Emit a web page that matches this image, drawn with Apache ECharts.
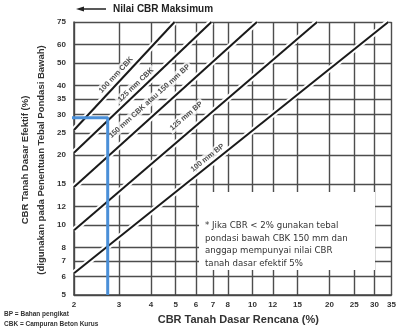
<!DOCTYPE html>
<html>
<head>
<meta charset="utf-8">
<script src="https://cdn.jsdelivr.net/npm/echarts@6/dist/echarts.min.js"></script>
<style>
  html, body { margin: 0; padding: 0; background: #fff; }
  #chart { width: 399px; height: 332px; }
</style>
</head>
<body>
<div id="chart"></div>
<script>
// tick values on both log axes
const xTicks = [2, 3, 4, 5, 6, 7, 8, 10, 12, 15, 20, 25, 30, 35];
const yTicks = [5, 6, 7, 8, 10, 12, 15, 20, 25, 30, 35, 40, 50, 60, 75];

// design lines [CBR rencana, CBR efektif]
const lineNames = ['100 mm CBK', '125 mm CBK', '150 mm CBK atau 150 mm BP', '125 mm BP', '100 mm BP'];
const cbk100 = [[2, 25.7], [4.95, 75]];
const cbk125 = [[2, 20.5], [6.9, 75]];
const cbk150 = [[2, 14.6], [10.4, 75]];
const bp125 = [[2, 9.5], [17.9, 75]];
const bp100 = [[2, 6.2], [34, 75]];
const labelSpots = [[2.92, 44.4], [3.49, 40.2], [3.95, 34.2], [5.5, 29.5], [6.66, 19.5]];

// blue reading example
const readLine = [[2.71, 5], [2.71, 29], [1.88, 29]];

const lg = v => Math.log10(v);
const toLog = pts => pts.map(p => [lg(p[0]), lg(p[1])]);
const fmt = v => String(Math.round(Math.pow(10, v)));
const font = 'Liberation Sans, Arial, sans-serif';

const chart = echarts.init(document.getElementById('chart'));
const curves = [cbk100, cbk125, cbk150, bp125, bp100];

const series = [];
curves.forEach((c, i) => {
  // white halo under each line
  series.push({
    type: 'line', data: toLog(c), symbol: 'none', silent: true, z: 2,
    lineStyle: { color: '#fff', width: 6 }
  });
  series.push({
    type: 'line', name: lineNames[i], data: toLog(c), symbol: 'none', z: 3,
    lineStyle: { color: '#1a1a1a', width: 2 }
  });
});

series.push({
  type: 'scatter', symbolSize: 0, z: 4, silent: true,
  data: labelSpots.map((p, i) => ({ value: [lg(p[0]), lg(p[1])], label: { formatter: lineNames[i] } })),
  label: {
    show: true, position: 'inside', color: '#222', fontFamily: font, fontSize: 7.5, fontWeight: 'bold',
    backgroundColor: '#fff', padding: [1, 2]
  }
});

series.push({
  type: 'line', data: toLog(readLine), symbol: 'none', clip: false, z: 5,
  lineStyle: { color: '#4a8fd8', width: 3 }
});

const option = {
  animation: false,
  grid: { left: 74, right: 6, top: 22, bottom: 37 },
  xAxis: {
    type: 'value', min: lg(2), max: lg(35),
    name: 'CBR Tanah Dasar Rencana (%)', nameLocation: 'middle', nameGap: 19,
    nameTextStyle: { color: '#333', fontFamily: font, fontSize: 11, fontWeight: 'bold', padding: [0, 0, 0, 11] },
    axisLine: { show: true, onZero: false, lineStyle: { color: '#444', width: 1.5 } },
    axisTick: { show: false, customValues: xTicks.map(lg) },
    axisLabel: { customValues: xTicks.map(lg), formatter: fmt, color: '#333', fontFamily: font, fontSize: 8, fontWeight: 'bold', margin: 6 },
    splitLine: { show: true, lineStyle: { color: '#4d4d4d', width: 1.4 } }
  },
  yAxis: {
    type: 'value', min: lg(5), max: lg(75),
    axisLine: { show: true, onZero: false, lineStyle: { color: '#444', width: 1.5 } },
    axisTick: { show: false, customValues: yTicks.map(lg) },
    axisLabel: { customValues: yTicks.map(lg), formatter: fmt, color: '#333', fontFamily: font, fontSize: 8, fontWeight: 'bold', margin: 8 },
    splitLine: { show: true, lineStyle: { color: '#4d4d4d', width: 1.4 } }
  },
  graphic: [
    { type: 'line', z: 10, shape: { x1: 106, y1: 9, x2: 82, y2: 9 }, style: { stroke: '#222', lineWidth: 1.5 } },
    { type: 'polygon', z: 10, shape: { points: [[76, 9], [84, 6.5], [84, 11.5]] }, style: { fill: '#222' } },
    { type: 'text', z: 10, x: 113, y: 9, style: { text: 'Nilai CBR Maksimum', fill: '#222', font: 'bold 10px ' + font, verticalAlign: 'middle' } },
    {
      type: 'text', z: 10, x: 33, y: 160, rotation: Math.PI / 2,
      style: {
        text: 'CBR Tanah Dasar Efektif (%)\n(digunakan pada Penentuan Tebal Pondasi Bawah)',
        fill: '#333', font: 'bold 9.5px ' + font, lineHeight: 16, align: 'center', verticalAlign: 'middle'
      }
    },
    { type: 'rect', z: 1, shape: { x: 199, y: 192, width: 176, height: 78 }, style: { fill: '#fff' } },
    {
      type: 'text', z: 10, x: 205, y: 220,
      style: {
        text: '* Jika CBR < 2% gunakan tebal\npondasi bawah CBK 150 mm dan\nanggap mempunyai nilai CBR\ntanah dasar efektif 5%',
        fill: '#333', font: '8.6px DejaVu Sans, sans-serif', lineHeight: 12.5, verticalAlign: 'top'
      }
    },
    { type: 'text', z: 10, x: 4, y: 314, style: { text: 'BP = Bahan pengikat', fill: '#333', font: 'bold 6.5px ' + font, verticalAlign: 'middle' } },
    { type: 'text', z: 10, x: 4, y: 324, style: { text: 'CBK = Campuran Beton Kurus', fill: '#333', font: 'bold 6.5px ' + font, verticalAlign: 'middle' } }
  ],
  series: series
};

chart.setOption(option);

// rotate each label along its line, using the chart's own scales
const labelData = labelSpots.map((p, i) => {
  const a = chart.convertToPixel({ gridIndex: 0 }, toLog(curves[i])[0]);
  const b = chart.convertToPixel({ gridIndex: 0 }, toLog(curves[i])[1]);
  const ang = Math.atan2(a[1] - b[1], b[0] - a[0]) * 180 / Math.PI;
  return { value: [lg(p[0]), lg(p[1])], label: { formatter: lineNames[i], rotate: ang } };
});
series[10].data = labelData;
chart.setOption({ series: series });
</script>
</body>
</html>
